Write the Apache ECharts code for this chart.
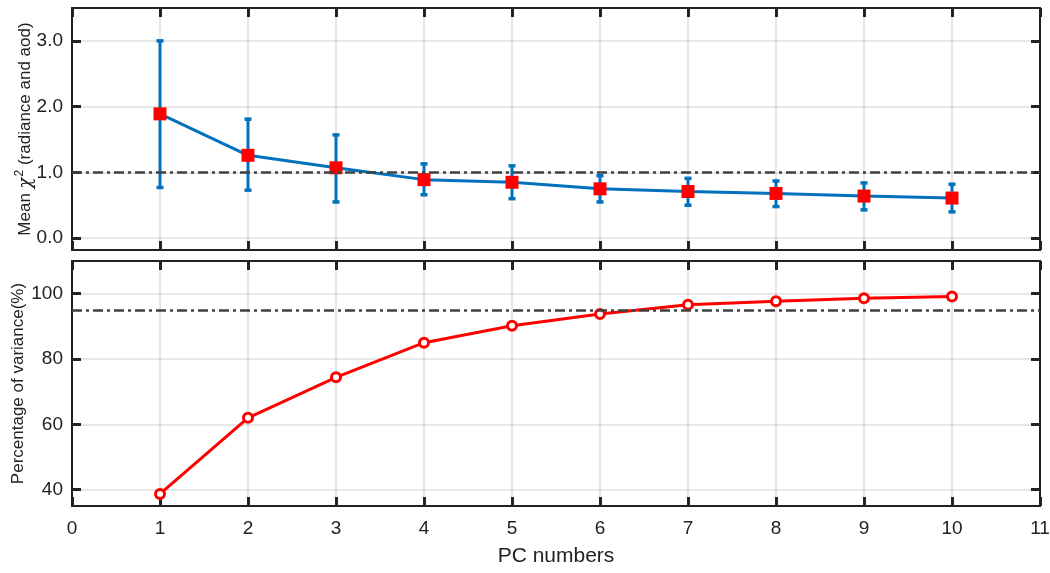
<!DOCTYPE html>
<html>
<head>
<meta charset="utf-8">
<script src="https://cdn.jsdelivr.net/npm/echarts@6/dist/echarts.min.js"></script>
<style>
  html, body { margin: 0; padding: 0; background: #fff; }
  #container { width: 1050px; height: 573px; }
</style>
</head>
<body>
<div id="container"></div>
<script>
// data
var pcNumbers = [1, 2, 3, 4, 5, 6, 7, 8, 9, 10];
var chiMean = [1.89, 1.26, 1.07, 0.89, 0.85, 0.75, 0.71, 0.68, 0.64, 0.61];
var chiHigh = [3.00, 1.81, 1.57, 1.13, 1.10, 0.95, 0.91, 0.87, 0.84, 0.82];
var chiLow = [0.77, 0.73, 0.55, 0.66, 0.60, 0.55, 0.50, 0.48, 0.43, 0.40];
var variancePct = [38.7, 62.0, 74.4, 85.0, 90.2, 93.8, 96.6, 97.7, 98.6, 99.1];
var chiRef = 1.0;
var varRef = 95;
var chiTicks = [0, 1, 2, 3];
var varTicks = [40, 60, 80, 100];

var dom = document.getElementById('container');
var myChart = echarts.init(dom);

var ink = '#222222';
var gridColor = 'rgba(0,0,0,0.13)';
var fontFam = 'Liberation Sans, Arial, sans-serif';
var blue = '#0072BD';
var red = '#FF0000';
var refLine = { color: '#404040', width: 2.5, type: [10, 4, 3, 4] };

function xAx(gridIndex, position, labels) {
    return {
        type: 'value', gridIndex: gridIndex, position: position,
        min: 0, max: 11, interval: 1,
        axisLine: { show: true, onZero: false, lineStyle: { color: ink, width: 2 } },
        axisTick: { show: true, inside: true, length: 9, lineStyle: { color: ink, width: 3 } },
        axisLabel: { show: labels, color: ink, fontSize: 19, fontFamily: fontFam, margin: 13 },
        splitLine: { show: position === 'bottom', lineStyle: { color: gridColor, width: 1.5 } }
    };
}

function yAx(gridIndex, position, min, max, ticks, fmt) {
    return {
        type: 'value', gridIndex: gridIndex, position: position,
        min: min, max: max,
        axisLine: { show: true, onZero: false, lineStyle: { color: ink, width: 2 } },
        axisTick: { show: true, inside: true, length: 9, customValues: ticks, lineStyle: { color: ink, width: 3 } },
        axisLabel: { show: position === 'left', customValues: ticks, color: ink, fontSize: 19, fontFamily: fontFam, margin: 9, formatter: fmt },
        splitLine: { show: position === 'left', lineStyle: { color: gridColor, width: 1.5 } }
    };
}

var errData = pcNumbers.map(function (x, i) { return [x, chiLow[i], chiHigh[i]]; });

option = {
    animation: false,
    backgroundColor: '#fff',
    grid: [
        { left: 72, top: 8, width: 968, height: 242, outerBoundsMode: 'none' },
        { left: 72, top: 261, width: 968, height: 245, outerBoundsMode: 'none' }
    ],
    xAxis: [
        xAx(0, 'bottom', false),
        xAx(0, 'top', false),
        Object.assign(xAx(1, 'bottom', true), {
            name: 'PC numbers', nameLocation: 'middle', nameGap: 40, nameMoveOverlap: false,
            nameTextStyle: { color: ink, fontSize: 21, fontFamily: fontFam }
        }),
        xAx(1, 'top', false)
    ],
    yAxis: [
        Object.assign(yAx(0, 'left', -0.18, 3.5, chiTicks, function (v) { return v.toFixed(1); }), {
            name: '{n|Mean }{c|χ}{s|2}{n| (radiance and aod)}', nameLocation: 'middle', nameGap: 35,
            nameMoveOverlap: false,
            nameTextStyle: {
                color: ink, fontFamily: fontFam,
                rich: {
                    n: { fontSize: 17, color: ink, fontFamily: fontFam },
                    c: { fontSize: 18, color: ink, fontStyle: 'italic', fontFamily: 'DejaVu Serif', padding: [2, 0, 0, 0] },
                    s: { fontSize: 12, color: ink, fontFamily: fontFam, padding: [0, 0, 11, 1] }
                }
            }
        }),
        yAx(0, 'right', -0.18, 3.5, chiTicks),
        Object.assign(yAx(1, 'left', 35, 110, varTicks), {
            name: 'Percentage of variance(%)', nameLocation: 'middle', nameGap: 45,
            nameMoveOverlap: false,
            nameTextStyle: { color: ink, fontSize: 17, fontFamily: fontFam }
        }),
        yAx(1, 'right', 35, 110, varTicks)
    ],
    series: [
        {
            name: 'error',
            type: 'custom',
            xAxisIndex: 0, yAxisIndex: 0,
            data: errData,
            encode: { x: 0, y: [1, 2] },
            z: 3,
            renderItem: function (params, api) {
                var x = api.value(0);
                var top = api.coord([x, api.value(2)]);
                var bot = api.coord([x, api.value(1)]);
                var h = 3.5;
                return {
                    type: 'group',
                    children: [
                        { type: 'line', shape: { x1: top[0], y1: top[1], x2: bot[0], y2: bot[1] }, style: { stroke: blue, lineWidth: 3 } },
                        { type: 'line', shape: { x1: top[0] - h, y1: top[1], x2: top[0] + h, y2: top[1] }, style: { stroke: blue, lineWidth: 3.5 } },
                        { type: 'line', shape: { x1: bot[0] - h, y1: bot[1], x2: bot[0] + h, y2: bot[1] }, style: { stroke: blue, lineWidth: 3.5 } }
                    ]
                };
            }
        },
        {
            name: 'mean chi2',
            type: 'line',
            xAxisIndex: 0, yAxisIndex: 0,
            data: pcNumbers.map(function (x, i) { return [x, chiMean[i]]; }),
            lineStyle: { color: blue, width: 3 },
            symbol: 'rect', symbolSize: 13,
            itemStyle: { color: red, borderColor: red, borderWidth: 0 },
            z: 4,
            markLine: {
                silent: true, symbol: 'none', label: { show: false },
                lineStyle: refLine,
                data: [{ yAxis: chiRef }]
            }
        },
        {
            name: 'variance',
            type: 'line',
            xAxisIndex: 2, yAxisIndex: 2,
            data: pcNumbers.map(function (x, i) { return [x, variancePct[i]]; }),
            lineStyle: { color: red, width: 3 },
            symbol: 'circle', symbolSize: 9, showAllSymbol: true,
            itemStyle: { color: '#fff', borderColor: red, borderWidth: 3 },
            z: 4,
            markLine: {
                silent: true, symbol: 'none', label: { show: false },
                lineStyle: refLine,
                data: [{ yAxis: varRef }]
            }
        }
    ]
};

if (option && typeof option === 'object') {
    myChart.setOption(option, true);
}
</script>
</body>
</html>
